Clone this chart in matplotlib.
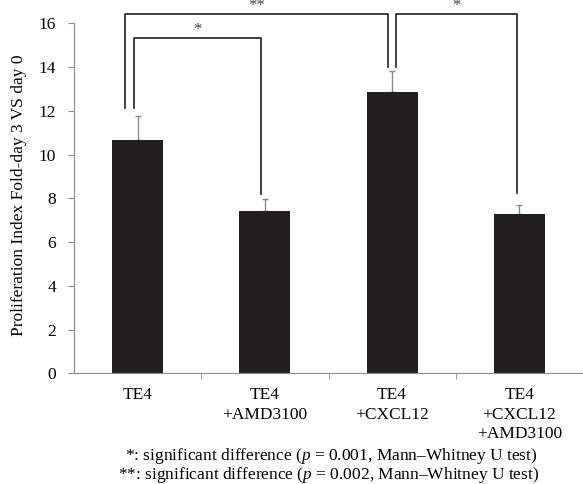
import numpy as np
import matplotlib
matplotlib.use("Agg")
import matplotlib.pyplot as plt

groups = ["TE4", "TE4\n+AMD3100", "TE4\n+CXCL12", "TE4\n+CXCL12\n+AMD3100"]
means = [10.66, 7.40, 12.84, 7.30]
errs = [1.12, 0.55, 0.96, 0.40]
yticks = [0, 2, 4, 6, 8, 10, 12, 14, 16]

# brackets: (left x, right x, bar height, left leg bottom, right leg bottom, label)
brackets = [
    (-0.03, 0.97, 15.31, 12.13, 8.2, "*"),
    (-0.10, 1.97, 16.41, 12.13, 14.0, "**"),
    (2.03, 2.98, 16.41, 14.0, 8.24, "*"),
]

plt.rcParams['font.family'] = ['Liberation Serif', 'DejaVu Serif']
plt.rcParams['mathtext.fontset'] = 'custom'
plt.rcParams['mathtext.it'] = 'Liberation Serif:italic'
plt.rcParams['mathtext.rm'] = 'Liberation Serif'

fig = plt.figure(figsize=(5.83, 4.84), dpi=100)
ax = fig.add_axes([0.127, 0.2287, 0.873, 0.7232])

x = np.arange(len(groups))
ax.bar(x, means, width=0.4, color="#231f20", zorder=2)
ax.errorbar(x, means, yerr=[np.zeros(len(errs)), errs], fmt="none",
            ecolor="#8a8a8a", elinewidth=1, capsize=2, capthick=1, zorder=1)

ax.set_xlim(-0.5, 3.5)
ax.set_ylim(0, 16)
ax.set_yticks(yticks)
ax.set_yticklabels([str(v) for v in yticks], fontsize=12.5)
ax.set_xticks(x)
ax.set_xticklabels(groups, fontsize=12.5, linespacing=1.3)
ax.set_xticks([0.5, 1.5, 2.5], minor=True)
ax.tick_params(axis="x", which="major", length=0, pad=10)
ax.tick_params(axis="x", which="minor", length=4, color="#8a8a8a", direction="out")
ax.tick_params(axis="y", length=4, color="#8a8a8a", pad=9)
for s in ["top", "right"]:
    ax.spines[s].set_visible(False)
for s in ["left", "bottom"]:
    ax.spines[s].set_color("#8a8a8a")
ax.set_ylabel("Proliferation Index Fold-day 3 VS day 0", fontsize=12.5)
ax.yaxis.set_label_coords(-0.092, 0.51)

for x0, x1, h, lb, rb, lab in brackets:
    ax.plot([x0, x0, x1, x1], [lb, h, h, rb], color="#231f20", lw=1.2,
            clip_on=False, zorder=3)
    ax.text((x0 + x1) / 2, h + 0.03, lab, ha="center", va="bottom",
            fontsize=12, color="#444444", clip_on=False)

fig.text(0.568, 0.057, "*: significant difference ($p$ = 0.001, Mann–Whitney U test)",
         ha="center", va="center", fontsize=12.5)
fig.text(0.563, 0.018, "**: significant difference ($p$ = 0.002, Mann–Whitney U test)",
         ha="center", va="center", fontsize=12.5)

fig.savefig("out.png", dpi=100)
